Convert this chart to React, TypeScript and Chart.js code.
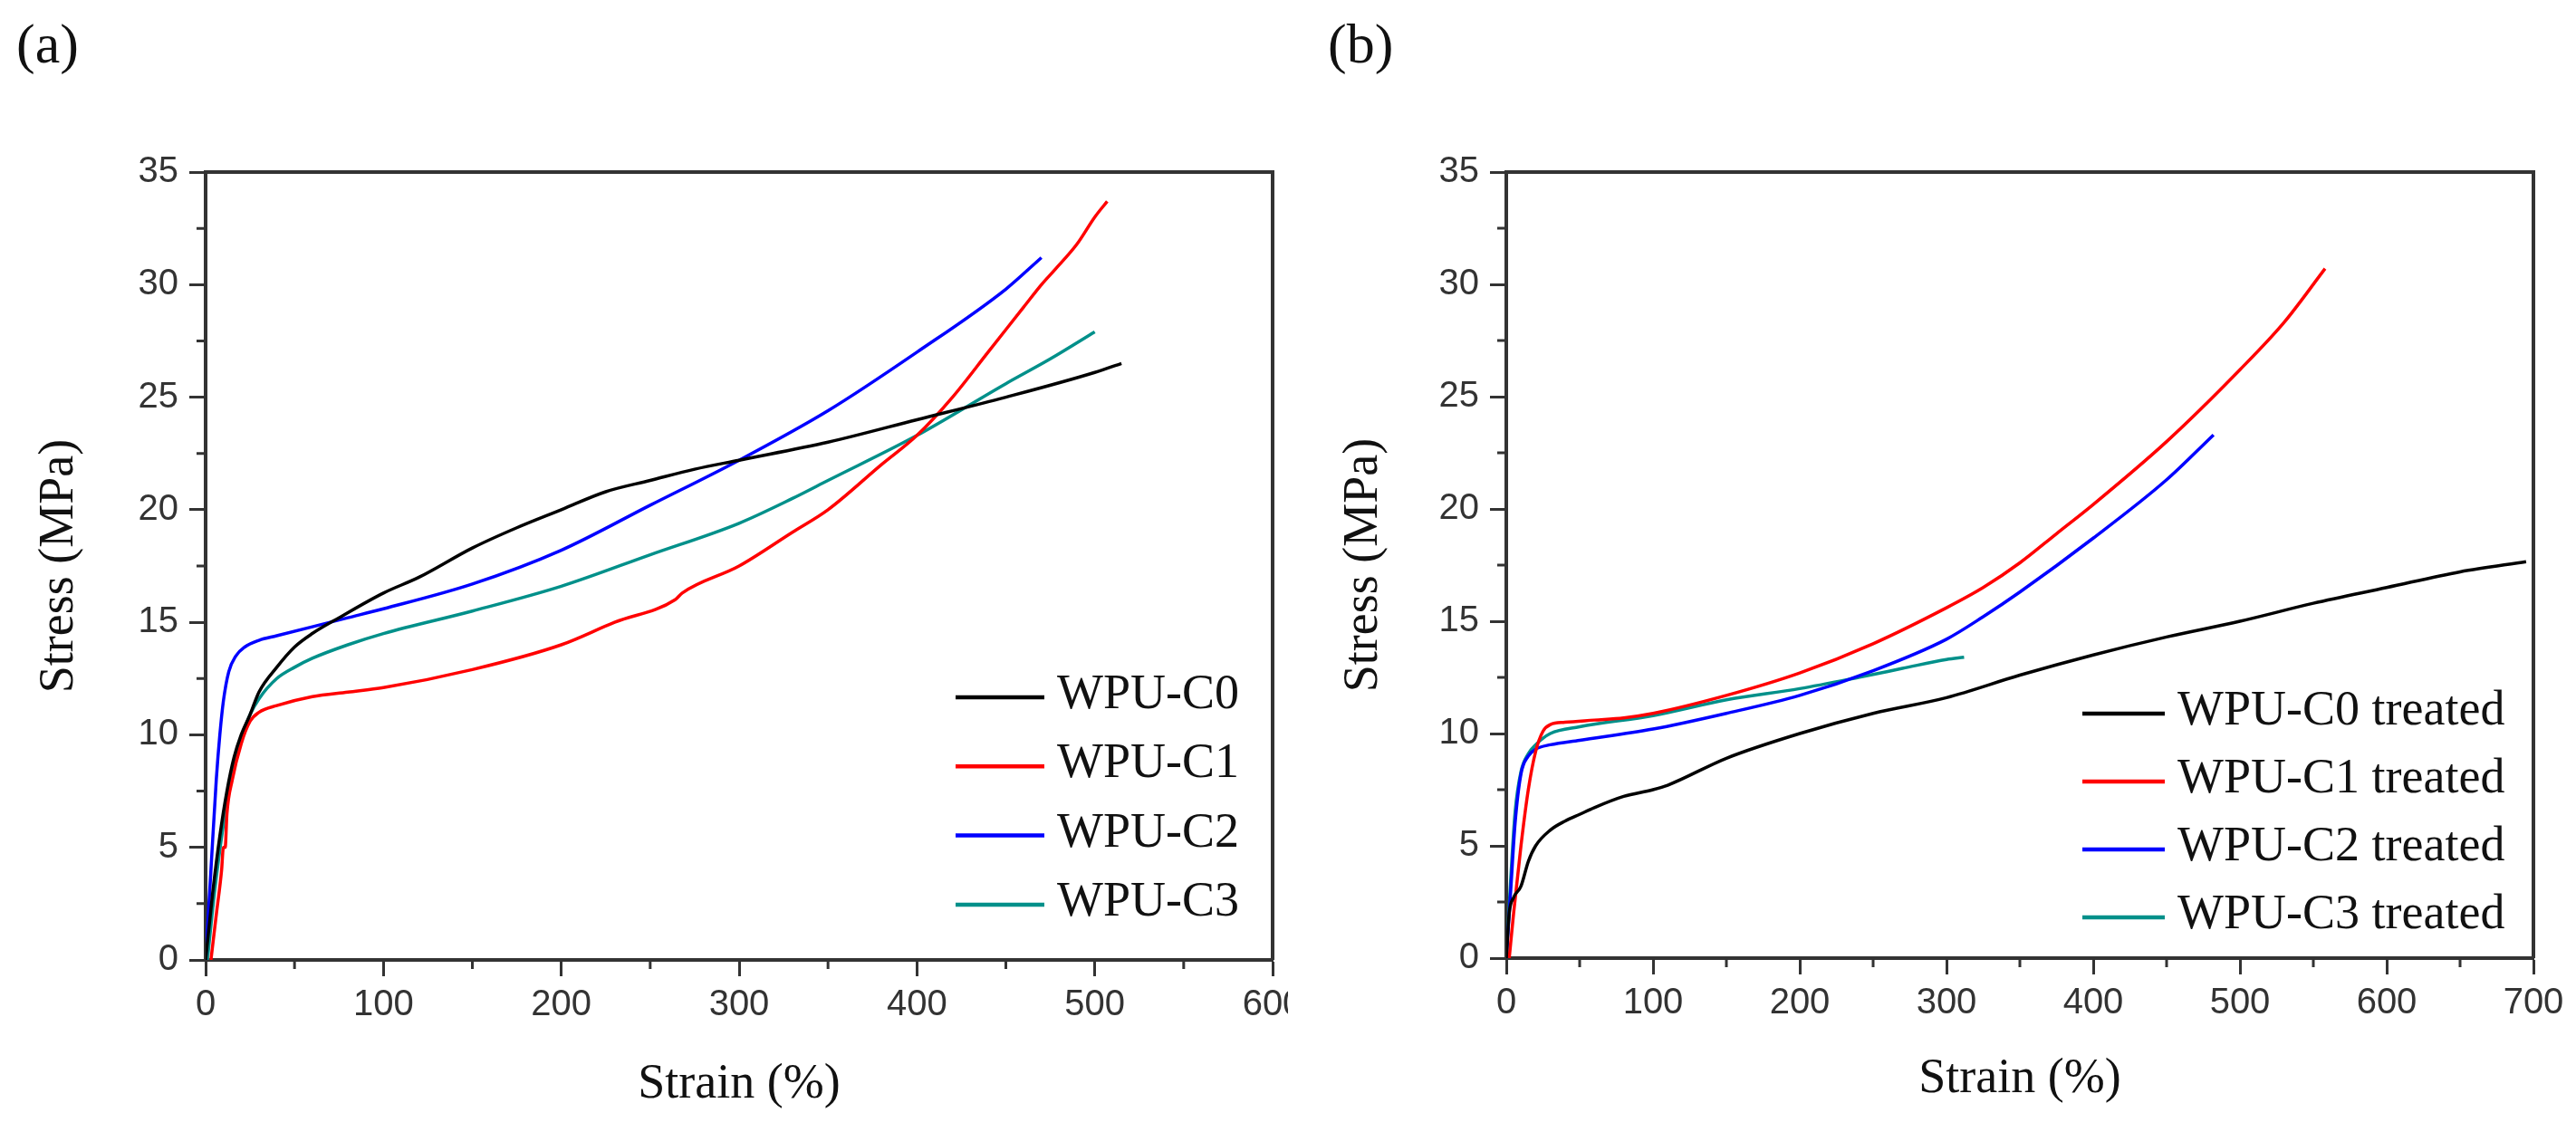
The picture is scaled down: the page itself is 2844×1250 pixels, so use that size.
import { useEffect, useRef } from 'react';
import { Chart, registerables } from 'chart.js';

Chart.register(...registerables);

// (a) as-cast films
const C0_STRAIN = [0, 4, 8, 12, 16, 20, 25, 30, 40, 50, 60, 75, 100, 120, 150, 175, 200, 225, 250, 275, 300, 350, 400, 450, 500, 515];
const C0_STRESS = [0, 3, 5.5, 7.5, 9, 10, 10.9, 11.9, 13.0, 13.9, 14.5, 15.2, 16.3, 17.0, 18.3, 19.2, 20.0, 20.8, 21.3, 21.8, 22.2, 23.0, 24.0, 25.0, 26.1, 26.5];
const C1_STRAIN = [3, 6, 9, 10, 11, 12, 15, 20, 25, 30, 40, 60, 80, 100, 150, 200, 230, 264, 268, 300, 330, 350, 380, 400, 420, 440, 460, 470, 478, 490, 500, 507];
const C1_STRESS = [0, 2, 4, 5, 5, 6.5, 8, 9.6, 10.6, 11.0, 11.3, 11.7, 11.9, 12.1, 12.9, 14.0, 15.0, 16.0, 16.3, 17.5, 19.0, 20.0, 22.0, 23.3, 25.0, 27.0, 29.0, 30.0, 30.7, 31.8, 33.0, 33.7];
const C2_STRAIN = [0, 3, 6, 8, 10, 13, 17, 22, 30, 40, 60, 80, 100, 150, 200, 250, 300, 350, 400, 450, 470];
const C2_STRESS = [0, 4, 8, 10, 11.5, 12.8, 13.5, 13.9, 14.2, 14.4, 14.8, 15.2, 15.6, 16.7, 18.2, 20.2, 22.2, 24.4, 27.0, 29.8, 31.2];
const C3_STRAIN = [1, 5, 10, 15, 20, 25, 30, 40, 50, 60, 80, 100, 150, 200, 250, 300, 330, 350, 400, 450, 475, 500];
const C3_STRESS = [0, 3, 6, 8.3, 9.8, 10.9, 11.6, 12.5, 13.0, 13.4, 14.0, 14.5, 15.5, 16.6, 18.0, 19.4, 20.5, 21.3, 23.3, 25.6, 26.7, 27.9];

// (b) treated films
const T0_STRAIN = [0, 2, 5, 10, 15, 20, 30, 40, 50, 60, 80, 100, 110, 150, 200, 250, 300, 350, 400, 450, 500, 550, 600, 650, 695];
const T0_STRESS = [0, 2, 2.7, 3.2, 4.3, 5.0, 5.7, 6.1, 6.4, 6.7, 7.2, 7.5, 7.7, 8.9, 10.0, 10.9, 11.6, 12.6, 13.5, 14.3, 15.0, 15.8, 16.5, 17.2, 17.65];
const T1_STRAIN = [2, 5, 10, 15, 20, 25, 30, 40, 60, 80, 100, 150, 200, 250, 300, 325, 350, 375, 400, 450, 500, 530, 558];
const T1_STRESS = [0, 2, 5, 7.5, 9.2, 10.1, 10.4, 10.5, 10.6, 10.7, 10.9, 11.7, 12.7, 14.0, 15.6, 16.5, 17.6, 18.9, 20.2, 23.0, 26.2, 28.3, 30.7];
const T2_STRAIN = [0, 3, 6, 10, 15, 20, 30, 50, 100, 150, 200, 250, 300, 325, 350, 400, 450, 482];
const T2_STRESS = [0, 3, 6, 8.2, 9.0, 9.3, 9.5, 9.7, 10.2, 10.9, 11.7, 12.8, 14.2, 15.2, 16.3, 18.7, 21.3, 23.3];
const T3_STRAIN = [0, 3, 6, 10, 15, 20, 30, 50, 100, 150, 200, 240, 270, 300, 312];
const T3_STRESS = [0, 3.5, 6.5, 8.3, 9.1, 9.5, 10.0, 10.3, 10.8, 11.5, 12.0, 12.5, 12.9, 13.3, 13.4];

const LABELS_A = ['WPU-C0', 'WPU-C1', 'WPU-C2', 'WPU-C3'];
const LABELS_B = ['WPU-C0 treated', 'WPU-C1 treated', 'WPU-C2 treated', 'WPU-C3 treated'];
const COLORS = ['#000000', '#ff0000', '#0000ff', '#00908a'];

const SERIES_A = [[C0_STRAIN, C0_STRESS], [C1_STRAIN, C1_STRESS], [C2_STRAIN, C2_STRESS], [C3_STRAIN, C3_STRESS]];
const SERIES_B = [[T0_STRAIN, T0_STRESS], [T1_STRAIN, T1_STRESS], [T2_STRAIN, T2_STRESS], [T3_STRAIN, T3_STRESS]];

const SERIF = '"Liberation Serif", "Times New Roman", serif';
const SANS = '"Liberation Sans", Arial, sans-serif';
const AXIS = '#333';

// frame on top/right, minor ticks, and the in-plot legend
const decor = {
  id: 'decor',
  afterDraw(chart: any, _a: any, o: any) {
    const { ctx, chartArea: a, scales } = chart;
    ctx.save();
    ctx.strokeStyle = AXIS;
    ctx.lineWidth = 4;
    ctx.beginPath();
    ctx.moveTo(a.left, a.top); ctx.lineTo(a.right, a.top); ctx.lineTo(a.right, a.bottom);
    ctx.stroke();
    ctx.lineWidth = 3;
    ctx.beginPath();
    for (let v = 50; v < scales.x.max; v += 100) {
      const px = scales.x.getPixelForValue(v);
      ctx.moveTo(px, a.bottom); ctx.lineTo(px, a.bottom + 10);
    }
    for (let v = 2.5; v < scales.y.max; v += 5) {
      const py = scales.y.getPixelForValue(v);
      ctx.moveTo(a.left, py); ctx.lineTo(a.left - 10, py);
    }
    ctx.stroke();
    ctx.font = `54px ${SERIF}`;
    ctx.textBaseline = 'middle';
    chart.data.datasets.forEach((ds: any, i: number) => {
      const yy = o.top + i * o.gap;
      ctx.strokeStyle = ds.borderColor;
      ctx.lineWidth = 4.5;
      ctx.beginPath(); ctx.moveTo(o.x0, yy); ctx.lineTo(o.x1, yy); ctx.stroke();
      ctx.fillStyle = '#111';
      ctx.fillText(ds.label, o.x1 + 14, yy - 2);
    });
    ctx.restore();
  }
};

interface PanelProps {
  tag: string; labels: string[]; series: number[][][]; xMax: number;
  padLeft: number; padRight: number; yWidth: number; yTitlePad: number; xHeight: number; xTitlePad: number;
  legend: { x0: number; x1: number; top: number; gap: number };
}

function Panel(p: PanelProps) {
  const ref = useRef<HTMLCanvasElement>(null);
  const ci = useRef<Chart | null>(null);

  useEffect(() => {
    if (!ref.current) return;
    ci.current?.destroy();
    ci.current = new Chart(ref.current, {
      type: 'line',
      data: {
        datasets: p.series.map(([xs, ys], i) => ({
          label: p.labels[i],
          data: xs.map((x, j) => ({ x, y: ys[j] })),
          borderColor: COLORS[i], borderWidth: 3.5, pointRadius: 0,
          cubicInterpolationMode: 'monotone' as const, fill: false
        }))
      },
      options: {
        animation: false, responsive: true, maintainAspectRatio: false,
        layout: { padding: { left: p.padLeft, right: p.padRight, top: 0, bottom: 0 } },
        plugins: {
          legend: { display: false }, tooltip: { enabled: false },
          title: { display: true, text: p.tag, align: 'start', color: '#111', font: { family: SERIF, size: 62, weight: 'normal', lineHeight: 1.2 }, padding: { top: 16, bottom: 99.6 } },
          decor: p.legend
        } as any,
        scales: {
          x: {
            type: 'linear', min: 0, max: p.xMax,
            afterFit: (s: any) => { s.height = p.xHeight; },
            border: { display: true, color: AXIS, width: 4 },
            grid: { drawOnChartArea: false, drawTicks: true, tickLength: 18, tickWidth: 3, tickColor: AXIS },
            ticks: { stepSize: 100, padding: 8, color: AXIS, font: { family: SANS, size: 40 }, maxRotation: 0 },
            title: { display: true, text: 'Strain (%)', color: '#111', font: { family: SERIF, size: 54, lineHeight: 1.2 }, padding: { top: 0, bottom: p.xTitlePad } }
          },
          y: {
            type: 'linear', min: 0, max: 35,
            afterFit: (s: any) => { s.width = p.yWidth; },
            border: { display: true, color: AXIS, width: 4 },
            grid: { drawOnChartArea: false, drawTicks: true, tickLength: 18, tickWidth: 3, tickColor: AXIS },
            ticks: { stepSize: 5, padding: 12, color: AXIS, font: { family: SANS, size: 40 } },
            title: { display: true, text: 'Stress (MPa)', color: '#111', font: { family: SERIF, size: 54, lineHeight: 1.2 }, padding: { top: p.yTitlePad, bottom: 0 } }
          }
        }
      },
      plugins: [decor]
    });
    return () => { ci.current?.destroy(); ci.current = null; };
  }, []);

  return <canvas ref={ref} style={{ background: '#fff' }} />;
}

export default function App() {
  return (
    <div style={{ position: 'absolute', left: 0, top: 0, width: 2844, height: 1250, background: '#fff', overflow: 'hidden' }}>
      <div style={{ position: 'absolute', left: 0, top: 0, width: 1480, height: 1250 }}>
        <Panel tag="(a)" labels={LABELS_A} series={SERIES_A} xMax={600}
          padLeft={18} padRight={75} yWidth={209} yTitlePad={15.6} xHeight={190} xTitlePad={19.6}
          legend={{ x0: 1055, x1: 1153, top: 770, gap: 76.3 }} />
      </div>
      <div style={{ position: 'absolute', left: 1422, top: 0, width: 1422, height: 1250 }}>
        <Panel tag="(b)" labels={LABELS_B} series={SERIES_B} xMax={700}
          padLeft={44} padRight={47} yWidth={197} yTitlePad={7.6} xHeight={192} xTitlePad={25.6}
          legend={{ x0: 877, x1: 968, top: 788, gap: 75 }} />
      </div>
    </div>
  );
}
